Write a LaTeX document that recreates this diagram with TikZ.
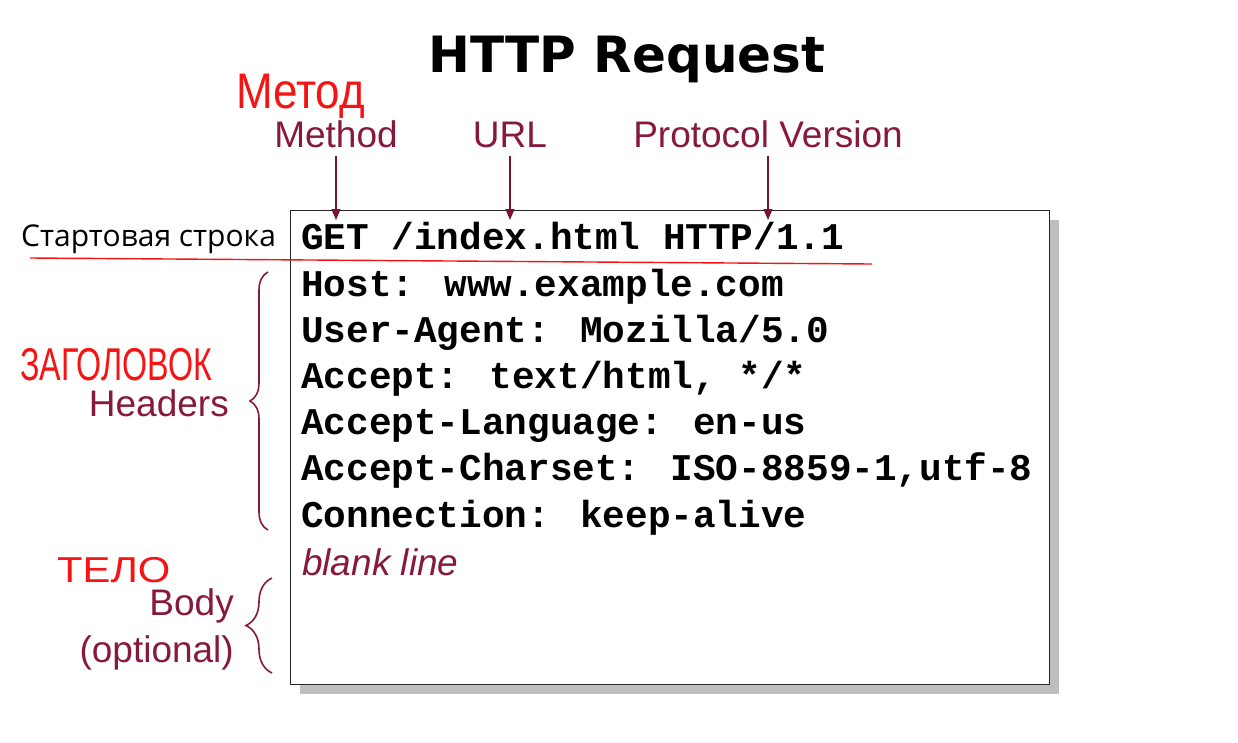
\documentclass[tikz,border=0pt]{standalone}
\usepackage{fontspec}
\setmainfont{Liberation Sans}
\newfontfamily\monof{Liberation Mono}
\newfontfamily\titlef{DejaVu Sans}
\newfontfamily\ruf{Open Sans}
\usetikzlibrary{arrows.meta,decorations.pathreplacing}
\definecolor{lab}{RGB}{135,25,60}
\definecolor{arrc}{RGB}{120,20,50}
\definecolor{hand}{RGB}{245,20,20}
\definecolor{shadowg}{RGB}{190,190,190}
\tikzset{
  labtext/.style={text=lab, font=\fontsize{37}{44}\selectfont, inner sep=0pt},
  monoline/.style={font=\monof\bfseries\fontsize{37.7}{46}\selectfont, inner sep=0pt, anchor=base west},
  handtext/.style={text=hand, inner sep=0pt, anchor=base west},
  pointer/.style={draw=arrc, line width=1.3pt, -{Triangle[length=11pt,width=9pt]}, shorten <=8pt},
  bracestyle/.style={draw=lab, line width=1.6pt, decorate, decoration={brace, amplitude=#1}},
}
\begin{document}
\begin{tikzpicture}[x=1pt,y=-1pt]
\useasboundingbox (0,0) rectangle (1238,742);
% box with shadow
\node (shadow) [fill=shadowg, minimum width=759pt, minimum height=474pt, inner sep=0pt, anchor=north west] at (300,220) {};
\node (box) [draw=black!85, line width=1.1pt, fill=white, minimum width=759pt, minimum height=474pt, inner sep=0pt, anchor=north west] at (290,210) {};
% title
\node (title) [font=\titlef\bfseries\fontsize{50}{60}\selectfont, anchor=base, inner sep=0pt] at (627,72) {HTTP Request};
% top labels
\node (method) [labtext, anchor=base] at (336,147) {Method};
\node (url) [labtext, anchor=base] at (510,147) {URL};
\node (proto) [labtext, anchor=base] at (768,147) {Protocol Version};
\coordinate (mtip) at (336,220);
\coordinate (utip) at (510,220);
\coordinate (ptip) at (768,220);
\draw[pointer] (method.south) -- (mtip);
\draw[pointer] (url.south) -- (utip);
\draw[pointer] (proto.south) -- (ptip);
% request lines
\node (l1) [monoline] at (301,249) {GET /index.html HTTP/1.1};
\node (l2) [monoline] at (301,296) {Host: www.example.com};
\node (l3) [monoline] at (301,342) {User-Agent: Mozilla/5.0};
\node (l4) [monoline] at (301,388.5) {Accept: text/html, */*};
\node (l5) [monoline] at (301,434.5) {Accept-Language: en-us};
\node (l6) [monoline] at (301,480.5) {Accept-Charset: ISO-8859-1,utf-8};
\node (l7) [monoline] at (301,527) {Connection: keep-alive};
\node (blank) [labtext, font=\itshape\fontsize{37}{44}\selectfont, anchor=base west] at (302,575) {blank line};
% start line annotation
\node (start) [font=\ruf\fontsize{30}{36}\selectfont, anchor=base west, inner sep=0pt] at (21,246) {Стартовая строка};
\coordinate (ulA) at (30,258);
\coordinate (ulB) at (872,264);
\draw[hand, line width=1.4pt] (ulA) -- (ulB);
% headers
\node (headers) [labtext, anchor=base east] at (229,416) {Headers};
\coordinate (hb1) at (268,530);
\coordinate (hb2) at (268,272);
\draw[bracestyle=18pt] (hb1) -- (hb2);
% body
\node (body) [labtext, anchor=base east] at (234,615) {Body};
\node (optional) [labtext, anchor=base east] at (234,662) {(optional)};
\coordinate (bb1) at (272,673);
\coordinate (bb2) at (272,578);
\draw[bracestyle=26pt] (bb1) -- (bb2);
% handwritten notes
\node (metod) [handtext, font=\fontsize{50}{58}\selectfont, xscale=0.88] at (236,108) {Метод};
\node (zag) [handtext, font=\fontsize{46}{54}\selectfont, xscale=0.7] at (20,380) {ЗАГОЛОВОК};
\node (telo) [handtext, font=\fontsize{36}{44}\selectfont, xscale=1.16] at (57,582) {ТЕЛО};
\end{tikzpicture}
\end{document}
